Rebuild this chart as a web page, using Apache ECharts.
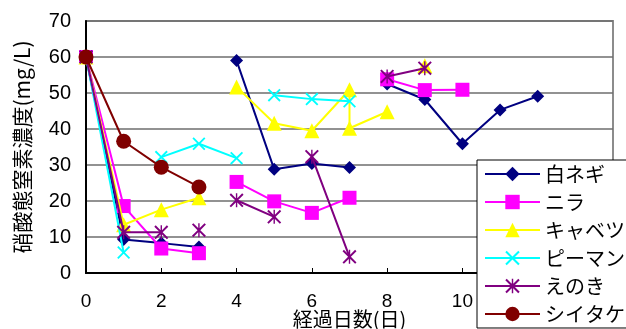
<!DOCTYPE html>
<html>
<head>
<meta charset="utf-8">
<script src="https://cdn.jsdelivr.net/npm/echarts@6/dist/echarts.min.js"></script>
<style>
html,body{margin:0;padding:0;background:#fff;}
#chart{width:626px;height:329px;}
</style>
</head>
<body>
<div id="chart"></div>
<script>
// Series names (legend)
const seriesNames = ['白ネギ', 'ニラ', 'キャベツ', 'ピーマン', 'えのき', 'シイタケ'];
// tick ranges
const xTicks = [0, 2, 4, 6, 8, 10, 12, 14];
const yTicks = [0, 10, 20, 30, 40, 50, 60, 70];
// Days (x) and nitrate values (y); null value = line break
const negiDays   = [0, 1, 2, 3, 3.5, 4, 5, 6, 7, 7.5, 8, 9, 10, 11, 12];
const negiVals   = [60, 9.3, 8.3, 7.2, null, 59.0, 28.8, 30.4, 29.3, null, 52.5, 48.2, 35.9, 45.3, 49.1];
const niraDays   = [0, 1, 2, 3, 3.5, 4, 5, 6, 7, 7.5, 8, 9, 10];
const niraVals   = [60, 18.6, 6.8, 5.5, null, 25.3, 19.9, 16.7, 20.9, null, 53.8, 50.8, 50.9];
const cabbageDays = [0, 1, 2, 3, 3.5, 4, 5, 6, 7, 7, 8, 8.5, 9];
const cabbageVals = [60, 13.4, 17.6, 20.9, null, 51.7, 41.6, 39.5, 50.9, 40.2, 44.8, null, 57.6];
const pimanDays  = [0, 1, 1.5, 2, 3, 4, 4.5, 5, 6, 7];
const pimanVals  = [60, 5.7, null, 32.2, 35.9, 31.9, null, 49.4, 48.3, 47.7];
const enokiDays  = [0, 1, 2, 2.5, 3, 3.5, 4, 5, 5.5, 6, 7, 7.5, 8, 9];
const enokiVals  = [60, 11.3, 11.3, null, 11.9, null, 20.2, 15.6, null, 32.3, 4.5, null, 54.6, 56.9];
const shiitakeDays = [0, 1, 2, 3];
const shiitakeVals = [60, 36.6, 29.4, 23.9];

const colors = ['#000080', '#FF00FF', '#FFFF00', '#00FFFF', '#800080', '#800000'];
const xPath = 'path://M2,0 L10,8 L18,0 L20,2 L12,10 L20,18 L18,20 L10,12 L2,20 L0,18 L8,10 L0,2 Z';
const starPath = 'path://M2,0 L10,8 L18,0 L20,2 L12,10 L20,18 L18,20 L10,12 L2,20 L0,18 L8,10 L0,2 Z M9,0 L11,0 L11,20 L9,20 Z';
const symbols = ['diamond', 'rect', 'triangle', xPath, starPath, 'circle'];
const sizes = [13, 14, 15, 13, 14, 15];

function pairs(xs, ys) { return xs.map((x, i) => [x, ys[i]]); }
const allData = [
  pairs(negiDays, negiVals), pairs(niraDays, niraVals), pairs(cabbageDays, cabbageVals),
  pairs(pimanDays, pimanVals), pairs(enokiDays, enokiVals), pairs(shiitakeDays, shiitakeVals)
];

const jp = '"Noto Sans CJK JP", sans-serif';
const num = '"Liberation Sans", Arial, sans-serif';

const chart = echarts.init(document.getElementById('chart'), null, {renderer: 'canvas'});
chart.setOption({
  animation: false,
  backgroundColor: '#fff',
  grid: {left: 86, top: 21, width: 527, height: 252, show: true, borderColor: '#8c8c8c', borderWidth: 2,
         outerBoundsMode: 'none', containLabel: false},
  xAxis: {
    type: 'value', min: xTicks[0], max: xTicks[xTicks.length - 1], interval: 2,
    axisLine: {lineStyle: {color: '#000', width: 2}},
    axisTick: {inside: true, length: 5, lineStyle: {color: '#000', width: 1}},
    axisLabel: {fontSize: 19, color: '#000', margin: 19, fontFamily: num},
    splitLine: {show: false},
    name: '経過日数(日)', nameLocation: 'middle', nameGap: 36, nameMoveOverlap: false,
    nameTextStyle: {fontSize: 20, color: '#000', fontFamily: jp}
  },
  yAxis: {
    type: 'value', min: yTicks[0], max: yTicks[yTicks.length - 1], interval: 10,
    axisLine: {show: true, lineStyle: {color: '#000', width: 2}},
    axisTick: {show: false},
    axisLabel: {fontSize: 20, color: '#000', margin: 15, fontFamily: num},
    splitLine: {lineStyle: {color: '#6e6e6e', width: 1.5}},
    name: '硝酸態窒素濃度(mg/L)', nameLocation: 'middle', nameGap: 53, nameMoveOverlap: false,
    nameTextStyle: {fontSize: 21, color: '#000', fontFamily: jp}
  },
  legend: {
    orient: 'vertical', left: 477, top: 160,
    backgroundColor: '#fff', borderColor: '#000', borderWidth: 1,
    padding: [4, 10, 4, 7], itemWidth: 55, itemHeight: 18, itemGap: 8,
    textStyle: {fontSize: 20, color: '#000', fontFamily: jp},
    data: seriesNames
  },
  series: seriesNames.map((n, i) => ({
    name: n, type: 'line', data: allData[i],
    symbol: symbols[i], symbolSize: sizes[i],
    connectNulls: false,
    lineStyle: {color: colors[i], width: 2},
    itemStyle: {color: colors[i]},
    z: 2 + i
  }))
});
</script>
</body>
</html>
